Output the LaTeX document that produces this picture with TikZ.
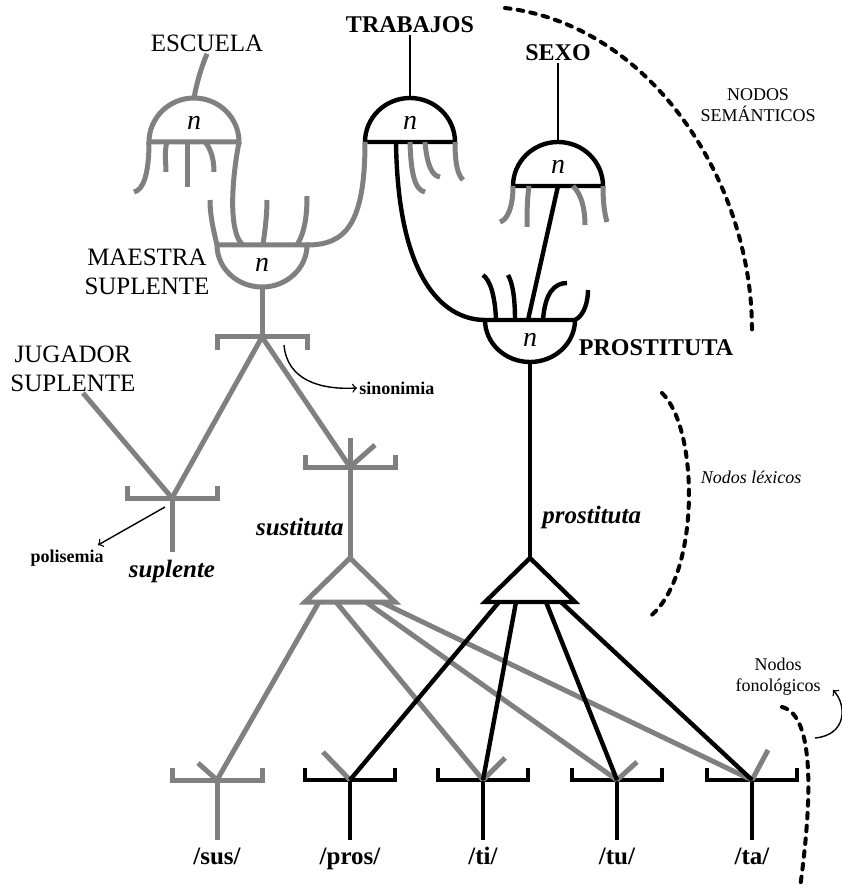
\documentclass[tikz,border=0pt]{standalone}
\usepackage{fontspec}
\setmainfont{Liberation Serif}
\usepackage{tikz}
\usetikzlibrary{arrows}
\usetikzlibrary{calc}
\tikzstyle{gris}=[draw=gray, line width=2.5pt]
\tikzstyle{negro}=[draw=black, line width=2.2pt]
\tikzstyle{fino}=[draw=black, line width=1.3pt]
\tikzstyle{flecha}=[draw,->,line width=0.7pt]
\tikzstyle{punt}=[draw, line width=2pt, line cap=round, dash pattern=on 2.8pt off 3.6pt]
\tikzstyle{ene}=[font=\fontsize{14}{14}\selectfont\itshape, inner sep=0pt]
\tikzstyle{sem}=[font=\fontsize{12.5}{14.5}\selectfont, align=center, inner sep=1pt]
\tikzstyle{semb}=[font=\fontsize{12}{14}\selectfont\bfseries, inner sep=1pt]
\tikzstyle{lex}=[font=\fontsize{12.5}{14}\selectfont\bfseries\itshape, inner sep=1pt]
\tikzstyle{fon}=[font=\fontsize{12.5}{14}\selectfont\bfseries, inner sep=1pt, anchor=base]
\tikzstyle{nota}=[font=\fontsize{9}{10.5}\selectfont, align=center, inner sep=1pt]
\tikzstyle{notab}=[font=\fontsize{9}{10}\selectfont\bfseries, inner sep=1pt]
% semantic node, flat side down
\newcommand{\domo}[4]{%
\draw[#4] (#2-45,#3) arc[start angle=180, end angle=0, x radius=22.5pt, y radius=22pt] -- cycle;
\node[ene] (#1) at (#2,#3-19) {n};
\coordinate (#1-t) at (#2,#3-44);
\coordinate (#1-l) at (#2-45,#3);
\coordinate (#1-r) at (#2+45,#3);
}
% semantic node, flat side up
\newcommand{\cuenco}[4]{%
\draw[#4] (#2-45,#3) arc[start angle=180, end angle=360, x radius=22.5pt, y radius=21pt] -- cycle;
\node[ene] (#1) at (#2,#3+20) {n};
\coordinate (#1-b) at (#2,#3+42);
\coordinate (#1-l) at (#2-45,#3);
\coordinate (#1-r) at (#2+45,#3);
}
\newcommand{\corup}[4]{%
\draw[#4] (#2-45,#3-12) -- (#2-45,#3) -- (#2+45,#3) -- (#2+45,#3-12);
\coordinate (#1) at (#2,#3);
}
\newcommand{\cordown}[4]{%
\draw[#4] (#2-45,#3+13) -- (#2-45,#3) -- (#2+45,#3) -- (#2+45,#3+13);
\coordinate (#1) at (#2,#3);
}
\newcommand{\triang}[4]{%
\draw[#4] (#2,#3) -- (#2+45,#3+44) -- (#2-45,#3+44) -- cycle;
\coordinate (#1) at (#2,#3);
\coordinate (#1-1) at (#2-31,#3+44);
\coordinate (#1-2) at (#2-14,#3+44);
\coordinate (#1-3) at (#2+16,#3+44);
\coordinate (#1-4) at (#2+31,#3+44);
}
\newcommand{\fono}[4]{%
\corup{#1}{#2}{780}{#3}
\node[fon] (#1-lab) at (#2,864) {#4};
\coordinate (#1-s) at (#2,840);
\draw[#3] (#1) -- (#1-s);
}

\begin{document}
\begin{tikzpicture}[x=0.5pt, y=-0.5pt]
\useasboundingbox (0,0) rectangle (841,892);

\domo{esc}{194}{142}{gris}
\domo{tra}{410}{142}{negro}
\domo{sex}{558}{186}{negro}
\cuenco{mae}{262}{245}{gris}
\cuenco{pro}{530}{320}{negro}

\node[sem] (escuela) at (207,43) {ESCUELA};
\node[semb] (trabajos) at (410,25) {TRABAJOS};
\node[semb] (sexo) at (558,53) {SEXO};
\node[sem] (maestra) at (147,272) {MAESTRA\\SUPLENTE};
\node[sem] (jugador) at (73,369) {JUGADOR\\SUPLENTE};
\node[semb] (prostituta) at (656,348) {PROSTITUTA};

\draw[gris] (esc-t) .. controls (197,82) and (201,68) .. (escuela.south);
\draw[fino] (tra-t) -- (trabajos);
\draw[fino] (sex-t) -- (sexo);

%\draw[gris] (esc-l) -- (esc-r);
\draw[gris] (esc-l) .. controls (149,175) and (143,190) .. (134,192);
\draw[gris] (167,142) .. controls (164,152) and (166,162) .. (166,172);
\draw[gris] (187,142) -- (187,187);
\draw[gris] (205,142) .. controls (212,150) and (214,162) .. (214,172);

\coordinate (mae-e) at (243,245);
\draw[gris] (esc-r) .. controls (230,190) and (230,235) .. (mae-e);
\draw[gris] (tra-l) .. controls (365,225) and (345,245) .. (mae-r);
\draw[gris] (mae-l) .. controls (213,228) and (210,215) .. (210,200);
\draw[gris] (263,245) .. controls (265,230) and (267,215) .. (267,200);
\draw[gris] (297,245) .. controls (305,232) and (307,215) .. (307,196);

\draw[gris] (410,142) .. controls (411,178) and (416,190) .. (425,192);
\draw[gris] (425,142) .. controls (427,165) and (432,176) .. (440,177);
\draw[gris] (tra-r) .. controls (455,165) and (458,175) .. (463,180);
\coordinate (tra-o) at (396,142);
\draw[negro] (tra-o) .. controls (398,290) and (450,320) .. (pro-l);

\draw[gris] (sex-l) .. controls (513,208) and (507,220) .. (500,222);
\draw[gris] (529,186) .. controls (527,200) and (527,215) .. (527,227);
\draw[gris] (573,186) .. controls (582,195) and (585,210) .. (585,225);
\draw[gris] (sex-r) .. controls (603,205) and (605,215) .. (607,222);
\coordinate (sex-o) at (558,186);
\coordinate (pro-e) at (528,320);
\draw[negro] (sex-o) -- (pro-e);

\draw[negro] (496,320) .. controls (495,295) and (490,280) .. (483,275);
\draw[negro] (515,320) .. controls (515,295) and (512,282) .. (508,275);
\draw[negro] (543,320) .. controls (545,292) and (555,283) .. (567,283);
\draw[negro] (pro-r) .. controls (585,315) and (588,300) .. (588,290);

% lexical nodes
\cordown{mbr}{262}{337}{gris}
\corup{sup}{172}{498}{gris}
\corup{sus}{350}{467}{gris}
\draw[gris] (mae-b) -- (mbr);
\draw[gris] (mbr) -- (sup);
\draw[gris] (mbr) -- (sus);
\coordinate (jug) at (83,393);
\draw[gris] (jug) -- (sup);
\coordinate (sup-s) at (172,552);
\draw[gris] (sup) -- (sup-s);
\node[lex] (suplente) at (172,571) {suplente};

\node[notab] (polisemia) at (67,558) {polisemia};
\coordinate (pol-a) at (165,507);
\coordinate (pol-b) at (98,545);
\draw[flecha] (pol-a) -- (pol-b);

\node[notab, anchor=west] (sinonimia) at (357,388) {sinonimia};
\coordinate (sin-a) at (284,345);
\draw[flecha] (sin-a) .. controls (287,380) and (320,390) .. (sinonimia.west);

\triang{st}{350}{558}{gris}
\triang{pt}{530}{558}{negro}
\coordinate (sus-t) at (350,438);
\coordinate (sus-x) at (375,445);
\draw[gris] (sus-t) -- (st);
\draw[gris] (sus) -- (sus-x);
\draw[negro] (pro-b) -- (pt);
\node[lex, anchor=east] (sustituta) at (346,527) {sustituta};
\node[lex, anchor=west] (prostit) at (540,517) {prostituta};

% phonological nodes
\fono{fsus}{217}{gris}{/sus/}
\fono{fpros}{350}{negro}{/pros/}
\fono{fti}{483}{negro}{/ti/}
\fono{ftu}{617}{negro}{/tu/}
\fono{fta}{752}{negro}{/ta/}

\draw[gris] (fsus) -- ++(-19,-17);
\draw[gris] (fpros) -- ++(-27,-28);
\draw[gris] (fti) -- ++(22,-22);
\draw[gris] (ftu) -- ++(20,-18);
\draw[gris] (fta) -- ++(16,-30);

\draw[gris] (st-1) -- (fsus);
\draw[gris] (st-2) -- (fti);
\draw[gris] (st-3) -- (ftu);
\draw[gris] (st-4) -- (fta);
\draw[negro] (pt-1) -- (fpros);
\draw[negro] (pt-2) -- (fti);
\draw[negro] (pt-3) -- (ftu);
\draw[negro] (pt-4) -- (fta);

% levels
\draw[punt] (505,8) .. controls (650,25) and (752,180) .. (752,330);
\node[nota] (nsem) at (758,105) {NODOS\\SEMÁNTICOS};
\draw[punt] (662,393) .. controls (700,430) and (700,580) .. (648,618);
\node[nota, font=\fontsize{9}{10.5}\selectfont\itshape] (nlex) at (751,477) {Nodos léxicos};
\draw[punt] (782,707) .. controls (815,715) and (812,800) .. (800,888);
\node[nota] (nfon) at (778,677) {Nodos\\fonológicos};
\coordinate (fon-a) at (815,738);
\coordinate (fon-b) at (833,690);
\draw[flecha] (fon-a) .. controls (847,735) and (847,705) .. (fon-b);
\end{tikzpicture}
\end{document}
